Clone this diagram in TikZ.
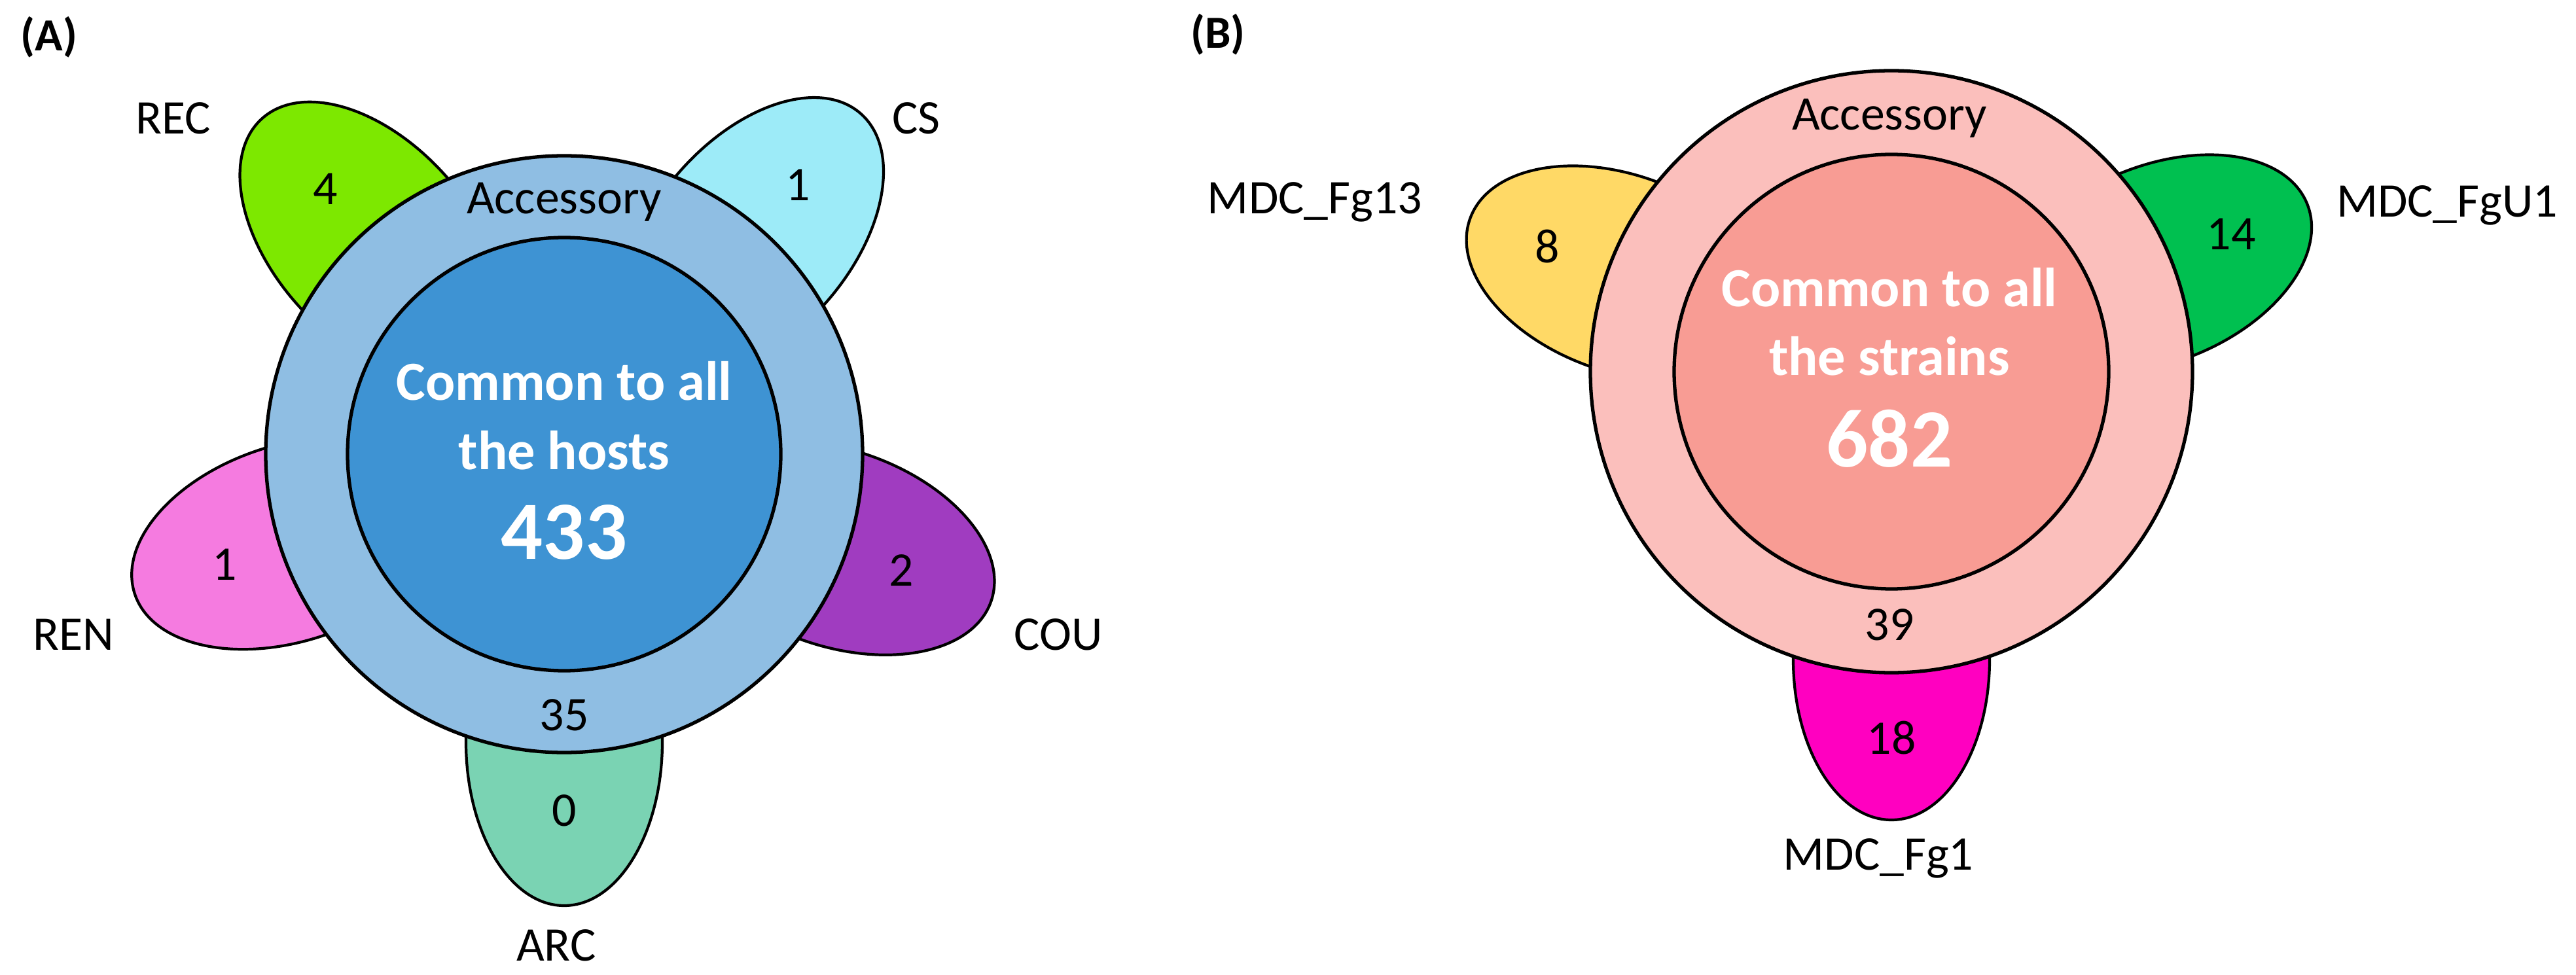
\documentclass[tikz,border=0pt]{standalone}
\usepackage{fontspec}
\setmainfont{Carlito}
\usetikzlibrary{positioning, calc}
\definecolor{accA}{HTML}{8FBEE3}
\definecolor{comA}{HTML}{3E93D3}
\definecolor{accB}{HTML}{FBBFBC}
\definecolor{comB}{HTML}{F89C94}
\definecolor{recC}{HTML}{7DE800}
\definecolor{csC}{HTML}{9DEBF8}
\definecolor{couC}{HTML}{A03CC0}
\definecolor{renC}{HTML}{F57BE0}
\definecolor{arcC}{HTML}{7AD3B3}
\definecolor{fgA}{HTML}{FFD966}
\definecolor{fgB}{HTML}{00C050}
\definecolor{fgC}{HTML}{FF00C0}
\begin{document}
\begin{tikzpicture}[
        petal/.style={draw, line width=1.2pt},
        ring/.style={draw, line width=1.5pt},
        num/.style={font=\fontsize{21}{24}\selectfont},
        lab/.style={font=\fontsize{21}{24}\selectfont},
        core/.style={font=\bfseries\fontsize{24}{30}\selectfont, text=white, align=center},
        big/.style={font=\bfseries\fontsize{36}{40}\selectfont, text=white}
      ]
      \useasboundingbox (0,0) rectangle (39.36,-14.9);

      % Panel A
      \coordinate (A) at (8.62,-6.94);
      \node [font=\bfseries\fontsize{20}{24}\selectfont] (labA) at (0.75,-0.57) {(A)};

      \foreach \ang/\col/\n/\nm in {132/recC/4/rec, 49/csC/1/cs, -19/couC/2/cou, 198/renC/1/ren, 270/arcC/0/arc}{
        \begin{scope}[shift={(A)}, rotate=\ang]
          \draw[petal, fill=\col] (4.4,0) ellipse (2.5 and 1.5);
        \end{scope}
        \node [num] (n\nm) at ($(A)+(\ang:5.45)$) {\n};
      }

      \draw[ring, fill=accA] (A) circle (4.56);
      \draw[ring, fill=comA] (A) circle (3.31);

      \node [num] (accA) at (8.62,-3.09) {Accessory};
      \node [core] (comA) at (8.62,-6.35) {Common to all\\the hosts};
      \node [big] (totA) at (8.62,-8.13) {433};
      \node [num] (outA) at (8.62,-10.93) {35};

      \node [lab] (rec) at (2.65,-1.81) {REC};
      \node [lab] (cs) at (14.0,-1.81) {CS};
      \node [lab] (cou) at (16.17,-9.7) {COU};
      \node [lab] (ren) at (1.12,-9.7) {REN};
      \node [lab] (arc) at (8.5,-14.45) {ARC};

      % Panel B
      \coordinate (B) at (28.9,-5.68);
      \node [font=\bfseries\fontsize{20}{24}\selectfont] (labB) at (18.61,-0.53) {(B)};

      \foreach \ang/\col/\n/\nm in {160/fgA/8/fgx, 22/fgB/14/fgy, 270/fgC/18/fgz}{
        \begin{scope}[shift={(B)}, rotate=\ang]
          \draw[petal, fill=\col] (4.4,0) ellipse (2.45 and 1.5);
        \end{scope}
        \node [num] (n\nm) at ($(B)+(\ang:5.6)$) {\n};
      }

      \draw[ring, fill=accB] (B) circle (4.6);
      \draw[ring, fill=comB] (B) circle (3.32);

      \node [num] (accB) at (28.87,-1.81) {Accessory};
      \node [core] (comB) at (28.87,-4.92) {Common to all\\the strains};
      \node [big] (totB) at (28.87,-6.7) {682};
      \node [num] (outB) at (28.87,-9.55) {39};

      \node [lab] (fg13) at (20.09,-3.09) {MDC\_Fg13};
      \node [lab] (fgu1) at (37.39,-3.14) {MDC\_FgU1};
      \node [lab] (fg1) at (28.7,-13.12) {MDC\_Fg1};
\end{tikzpicture}
\end{document}
